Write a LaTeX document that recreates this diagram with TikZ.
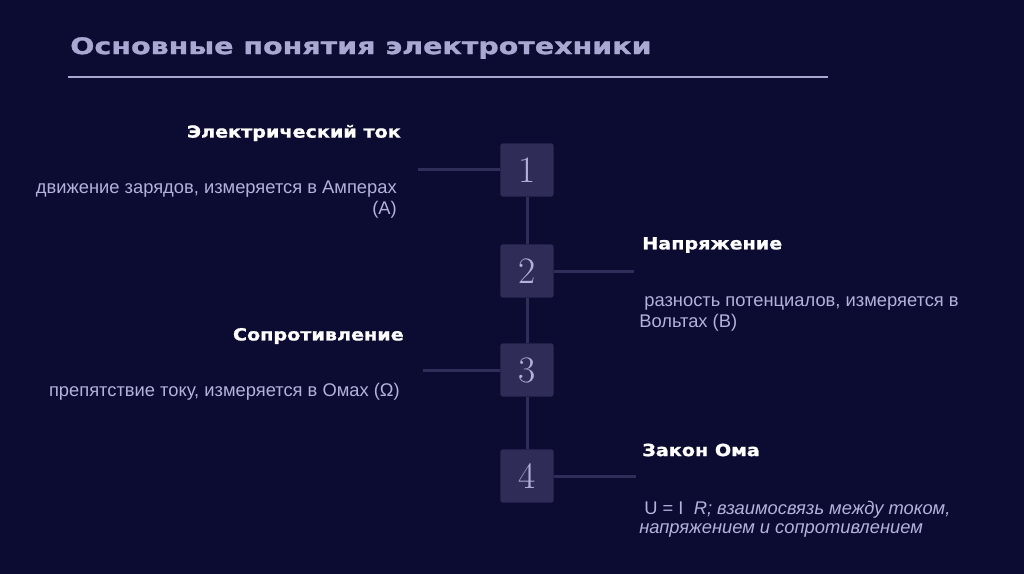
\documentclass[tikz,border=0pt]{standalone}
\usepackage{fontspec}
\setsansfont{Liberation Sans}
\renewcommand{\familydefault}{\sfdefault}
\newfontfamily\fuentenegra{DejaVu Sans}[FakeStretch=1.15,BoldFeatures={FakeBold=1.2}]
\newfontfamily\fuentetitulo{DejaVu Sans}[FakeStretch=1.25,BoldFeatures={FakeBold=1.2}]
\usepackage{xcolor}
\usetikzlibrary{positioning,calc}
\definecolor{fondo}{HTML}{0C0B31}
\definecolor{lavanda}{HTML}{B2B2DC}
\definecolor{lavandaosc}{HTML}{A8A8D2}
\definecolor{cajacolor}{HTML}{2F2C58}
\definecolor{lineacolor}{HTML}{302D5A}
\tikzset{
  caja/.style={fill=cajacolor,rounded corners=2pt,minimum size=40pt,inner sep=0pt,font=\rmfamily\fontsize{28}{28}\selectfont,text=lavanda},
  linea/.style={draw=lineacolor,line width=2.25pt},
  regla/.style={draw=lavandaosc,line width=1.5pt},
  titulo/.style={font=\fuentenegra\bfseries\fontsize{12.5}{16}\selectfont,text=white,inner sep=0pt},
  texto/.style={font=\fontsize{13.75}{15.75}\selectfont,text=lavanda,inner sep=0pt},
}
\begin{document}
\begin{tikzpicture}[x=0.75pt,y=-0.75pt]
  \fill[fondo] (0,0) rectangle (1024,574);
  \useasboundingbox (0,0) rectangle (1024,574);
  % encabezado
  \node[anchor=west,inner sep=0pt,text=lavandaosc,font=\fuentetitulo\bfseries\fontsize{17.1}{20}\selectfont] (cabecera) at (70,48) {Основные понятия электротехники};
  \coordinate (r1) at (68,77);
  \coordinate (r2) at (828,77);
  \draw[regla] (r1) -- (r2);
  % cajas numeradas
  \node[caja] (n1) at (527,170) {1};
  \node[caja] (n2) at (527,271) {2};
  \node[caja] (n3) at (527,370) {3};
  \node[caja] (n4) at (527,476) {4};
  \draw[linea] (n1) -- (n2);
  \draw[linea] (n2) -- (n3);
  \draw[linea] (n3) -- (n4);
  \coordinate (c1) at (418,170);
  \coordinate (c2) at (634,271);
  \coordinate (c3) at (423,370);
  \coordinate (c4) at (636,476);
  \draw[linea] (c1) -- (n1);
  \draw[linea] (n2) -- (c2);
  \draw[linea] (c3) -- (n3);
  \draw[linea] (n4) -- (c4);
  % textos
  \node[titulo,anchor=east] (t1) at (401,133) {Электрический ток};
  \node[texto,anchor=east,align=right] (d1) at (397,200) {движение зарядов, измеряется в Амперах\\(А)};
  \node[titulo,anchor=west] (t2) at (642,245) {Напряжение};
  \node[texto,anchor=west,align=left] (d2) at (639,314) {\ разность потенциалов, измеряется в\\Вольтах (В)};
  \node[titulo,anchor=east] (t3) at (404,336) {Сопротивление};
  \node[texto,anchor=east] (d3) at (400,392) {препятствие току, измеряется в Омах (Ω)};
  \node[titulo,anchor=west] (t4) at (642,450) {Закон Ома};
  \node[texto,anchor=west,align=left,font=\fontsize{13.75}{14.25}\selectfont] (d4) at (639,519) {\ U = I\ \ \textit{R; взаимосвязь между током,}\\\textit{напряжением и сопротивлением}};
\end{tikzpicture}
\end{document}
